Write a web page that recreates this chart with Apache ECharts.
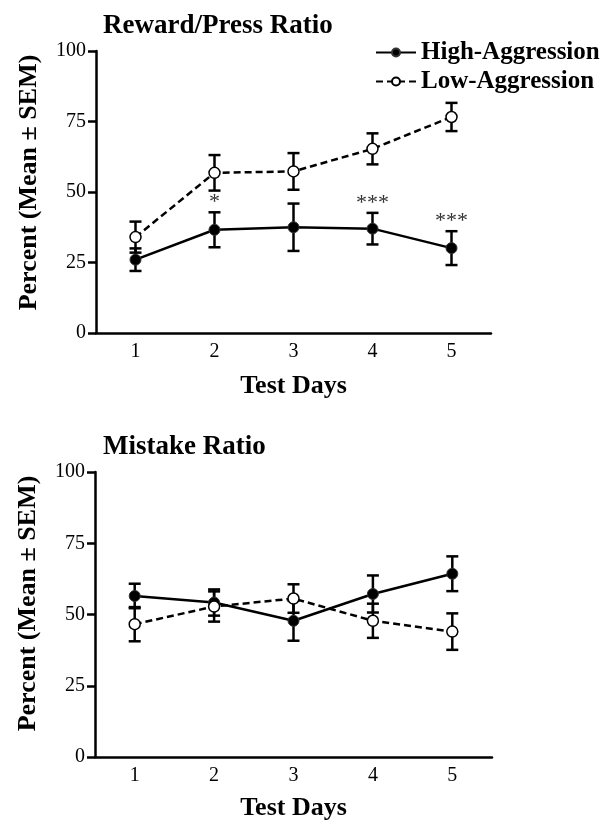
<!DOCTYPE html>
<html>
<head>
<meta charset="utf-8">
<script src="https://cdn.jsdelivr.net/npm/echarts@6/dist/echarts.min.js"></script>
<style>
  html, body { margin: 0; padding: 0; background: #fff; }
  #chart { width: 615px; height: 824px; }
</style>
</head>
<body>
<div id="chart"></div>
<script>
const days = ["1", "2", "3", "4", "5"];

// Reward/Press Ratio
const rewardHigh = [26, 36.6, 37.5, 37, 30.1];
const rewardHighSem = [4, 6.2, 8.4, 5.6, 6];
const rewardLow = [34, 56.8, 57.3, 65.3, 76.6];
const rewardLowSem = [5.5, 6.3, 6.5, 5.5, 5];
const rewardSig = ["", "*", "", "***", "***"];

// Mistake Ratio
const mistakeHigh = [56.5, 54.2, 47.8, 57.2, 64.3];
const mistakeHighSem = [4.3, 4.6, 7, 6.5, 6.1];
const mistakeLow = [46.6, 52.8, 55.6, 47.8, 44];
const mistakeLowSem = [6, 5.3, 5, 6, 6.4];

const FONT = "'Liberation Serif', 'Times New Roman', serif";

const chart = echarts.init(document.getElementById("chart"));

const xAxisBase = (gridIndex, gap) => ({
  type: "category",
  gridIndex,
  data: days,
  boundaryGap: true,
  name: "Test Days",
  nameLocation: "middle",
  nameGap: gap,
  nameTextStyle: { fontFamily: FONT, fontWeight: "bold", fontSize: 26, color: "#000" },
  axisLine: { lineStyle: { color: "#000", width: 2.5 } },
  axisTick: { alignWithLabel: true, length: 7, lineStyle: { color: "#000", width: 2.5 } },
  axisLabel: { fontFamily: FONT, fontSize: 20, color: "#000", margin: 9 },
  splitLine: { show: false },
});

const yAxisBase = (gridIndex, shift) => ({
  type: "value",
  gridIndex,
  min: 0,
  max: 100,
  interval: 25,
  name: "Percent (Mean \u00b1 SEM)",
  nameLocation: "middle",
  nameRotate: 90,
  nameGap: 54,
  nameTextStyle: {
    fontFamily: FONT, fontWeight: "bold", fontSize: 26, color: "#000",
    padding: [0, 0, 0, shift],
  },
  axisLine: { show: true, lineStyle: { color: "#000", width: 2.5 } },
  axisTick: { show: true, length: 8, lineStyle: { color: "#000", width: 2.5 } },
  axisLabel: { fontFamily: FONT, fontSize: 20, color: "#000", margin: 10 },
  splitLine: { show: false },
});

// error bars drawn with a custom series
const errorBars = (gridIndex, means, sems) => ({
  type: "custom",
  xAxisIndex: gridIndex,
  yAxisIndex: gridIndex,
  z: 1,
  silent: true,
  data: means.map((m, i) => [i, m - sems[i], m + sems[i]]),
  renderItem: (params, api) => {
    const lo = api.coord([api.value(0), api.value(1)]);
    const hi = api.coord([api.value(0), api.value(2)]);
    const w = 6;
    const style = { stroke: "#000", lineWidth: 2.5 };
    return {
      type: "group",
      children: [
        { type: "line", shape: { x1: lo[0], y1: lo[1], x2: hi[0], y2: hi[1] }, style },
        { type: "line", shape: { x1: lo[0] - w, y1: lo[1], x2: lo[0] + w, y2: lo[1] }, style },
        { type: "line", shape: { x1: hi[0] - w, y1: hi[1], x2: hi[0] + w, y2: hi[1] }, style },
      ],
    };
  },
});

const highLine = (gridIndex, data) => ({
  name: "High-Aggression",
  type: "line",
  xAxisIndex: gridIndex,
  yAxisIndex: gridIndex,
  data,
  z: 3,
  symbol: "circle",
  symbolSize: 11,
  itemStyle: { color: "#000", borderColor: "#333", borderWidth: 1 },
  lineStyle: { color: "#000", width: 2.5, type: "solid" },
});

const lowLine = (gridIndex, data) => ({
  name: "Low-Aggression",
  type: "line",
  xAxisIndex: gridIndex,
  yAxisIndex: gridIndex,
  data,
  z: 3,
  symbol: "circle",
  symbolSize: 11,
  itemStyle: { color: "#fff", borderColor: "#000", borderWidth: 1.5 },
  lineStyle: { color: "#000", width: 2.5, type: [7, 4] },
});

// significance stars above the high-aggression error bar
const sigStars = {
  type: "custom",
  xAxisIndex: 0,
  yAxisIndex: 0,
  z: 4,
  silent: true,
  data: rewardSig.map((s, i) => [i, rewardHigh[i] + rewardHighSem[i] + 3.5]),
  renderItem: (params, api) => {
    const p = api.coord([api.value(0), api.value(1)]);
    return {
      type: "text",
      x: p[0],
      y: p[1],
      style: {
        text: rewardSig[params.dataIndex],
        fontFamily: FONT,
        fontSize: 22,
        fill: "#333",
        align: "center",
        verticalAlign: "middle",
      },
    };
  },
};

chart.setOption({
  animation: false,
  backgroundColor: "#fff",
  title: [
    {
      text: "Reward/Press Ratio",
      left: 98,
      top: 8,
      textStyle: { fontFamily: FONT, fontWeight: "bold", fontSize: 27, color: "#000" },
    },
    {
      text: "Mistake Ratio",
      left: 98,
      top: 429,
      textStyle: { fontFamily: FONT, fontWeight: "bold", fontSize: 27, color: "#000" },
    },
  ],
  legend: {
    orient: "vertical",
    left: 370,
    top: 35,
    itemWidth: 40,
    itemHeight: 10,
    itemGap: 4,
    textStyle: { fontFamily: FONT, fontWeight: "bold", fontSize: 25, color: "#000" },
    data: ["High-Aggression", "Low-Aggression"],
  },
  grid: [
    { left: 96, top: 51, width: 395, height: 282 },
    { left: 95, top: 472, width: 397, height: 285 },
  ],
  xAxis: [xAxisBase(0, 40), xAxisBase(1, 38)],
  yAxis: [yAxisBase(0, 19), yAxisBase(1, 22)],
  series: [
    errorBars(0, rewardHigh, rewardHighSem),
    errorBars(0, rewardLow, rewardLowSem),
    highLine(0, rewardHigh),
    lowLine(0, rewardLow),
    sigStars,
    errorBars(1, mistakeHigh, mistakeHighSem),
    errorBars(1, mistakeLow, mistakeLowSem),
    highLine(1, mistakeHigh),
    lowLine(1, mistakeLow),
  ],
});
</script>
</body>
</html>
